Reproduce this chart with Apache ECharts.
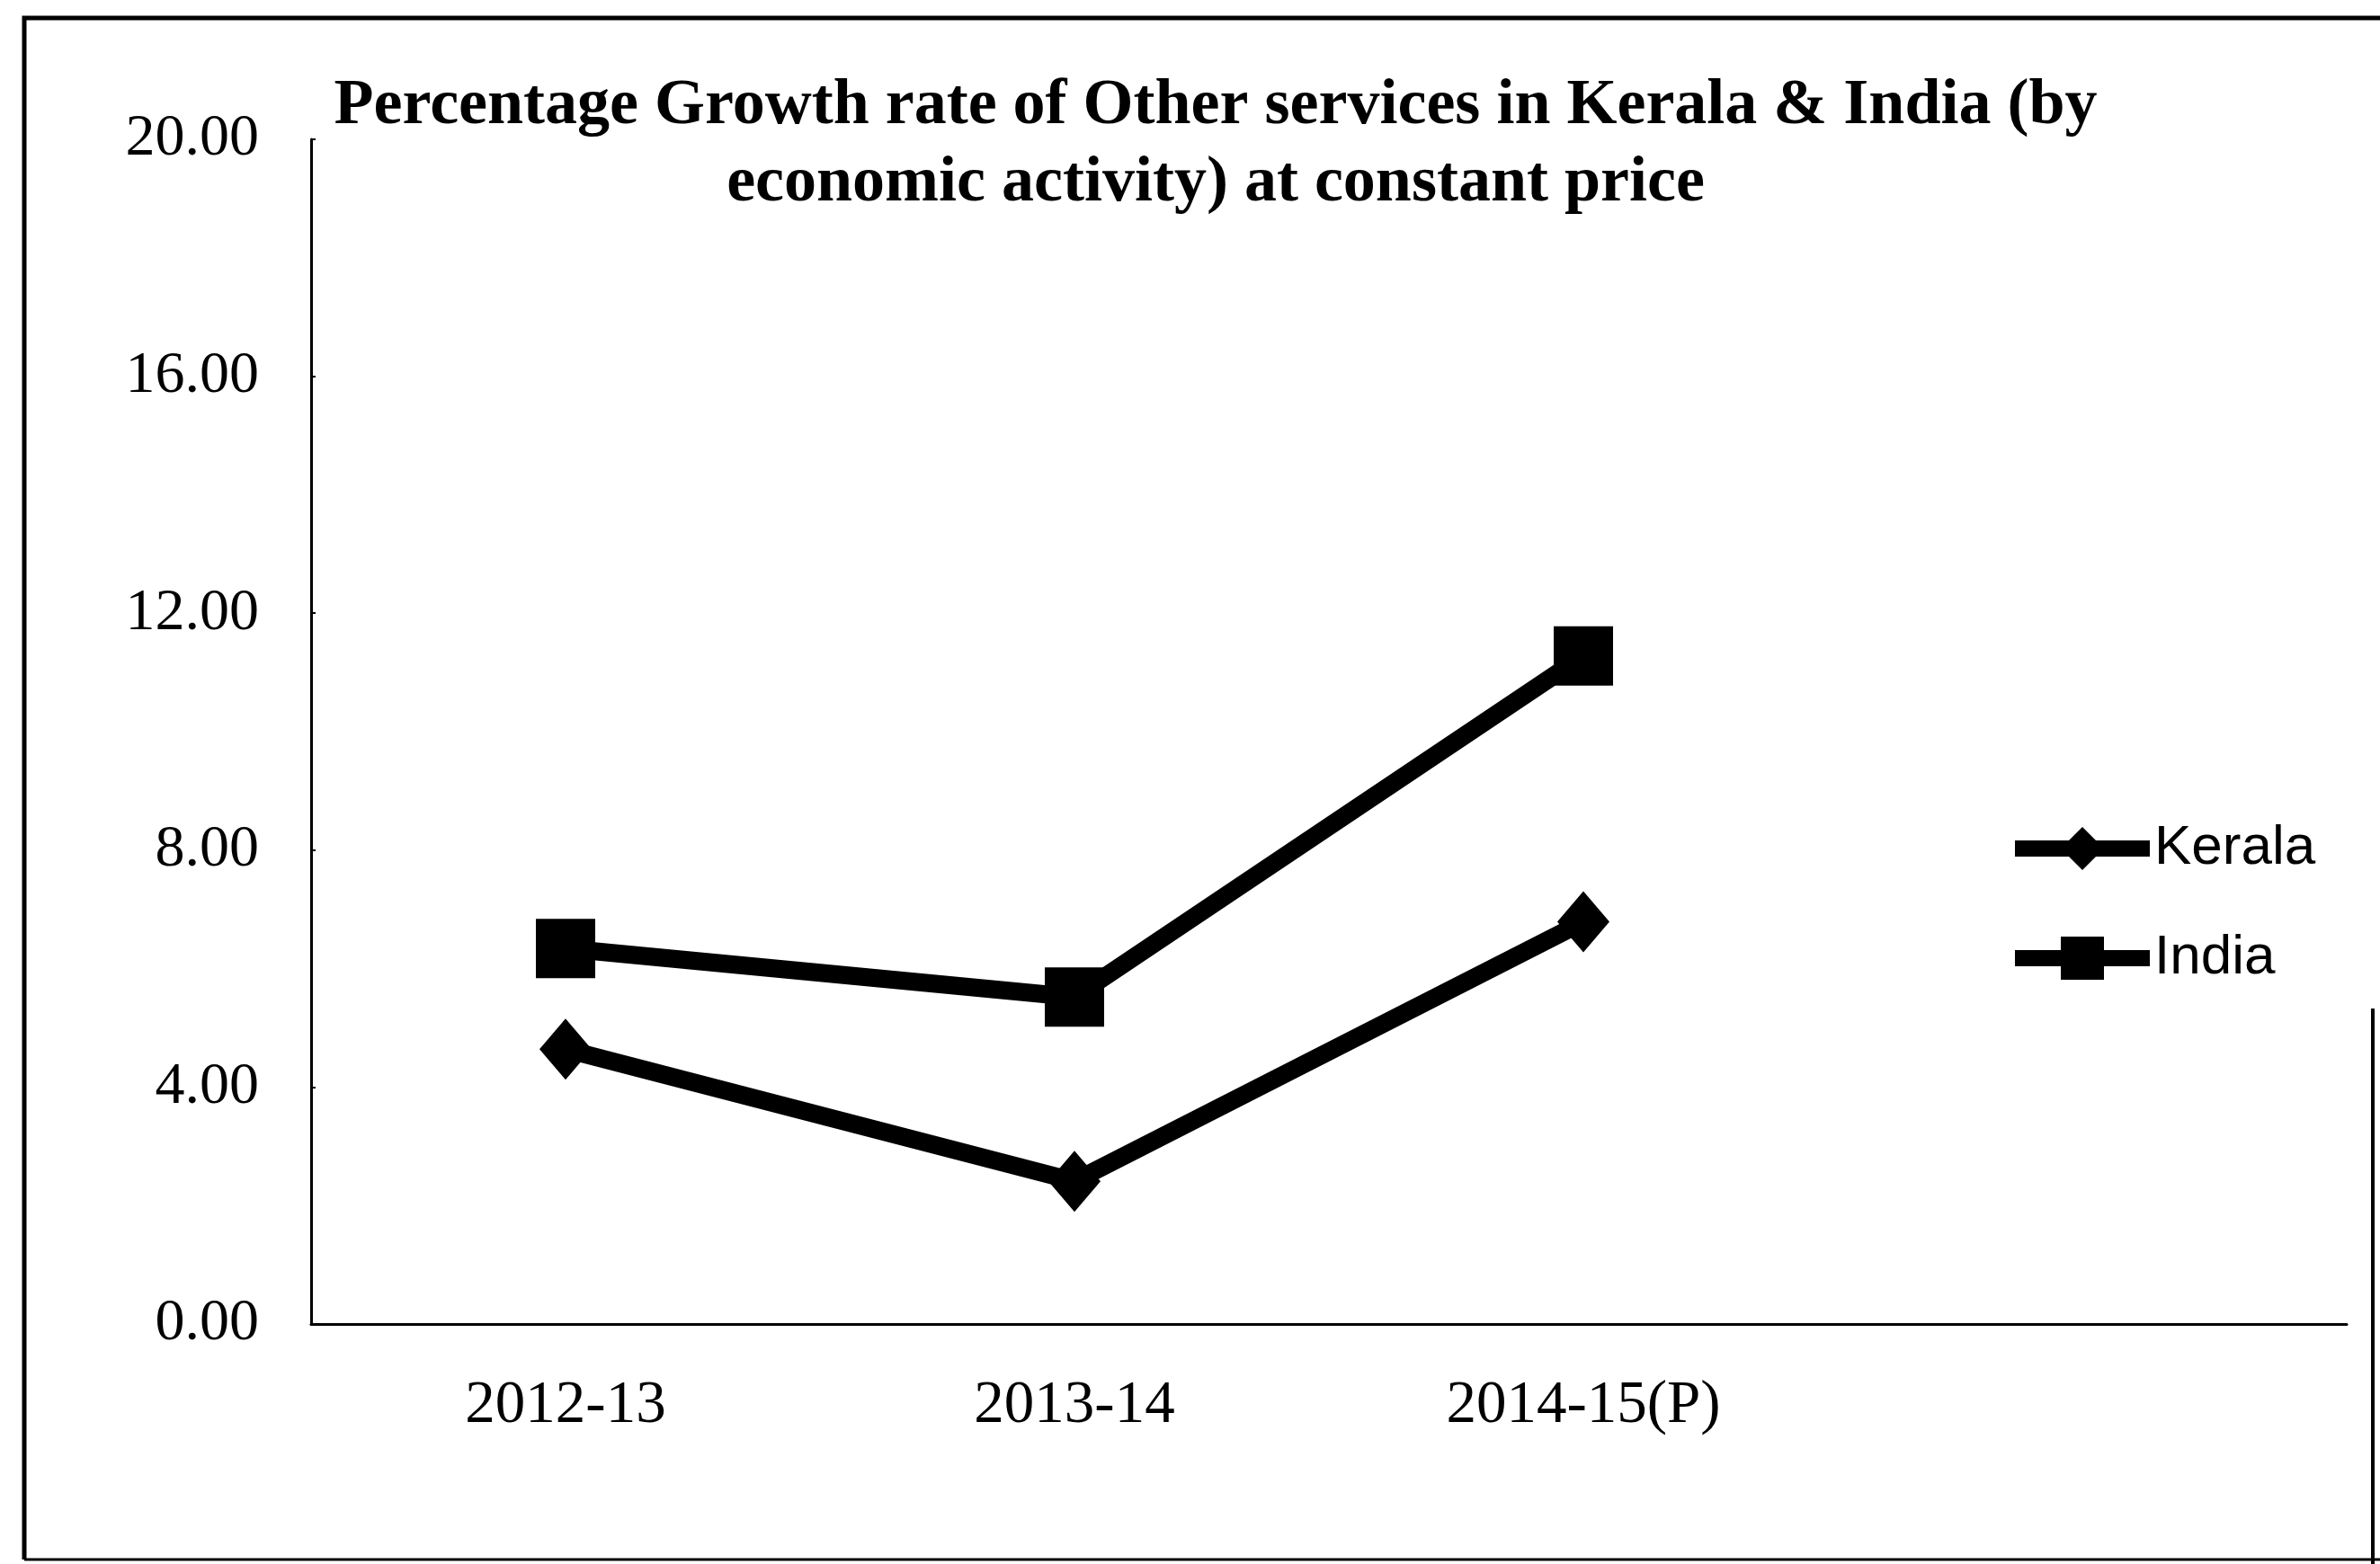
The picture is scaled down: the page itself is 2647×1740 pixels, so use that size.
<!DOCTYPE html>
<html>
<head>
<meta charset="utf-8">
<script src="https://cdn.jsdelivr.net/npm/echarts@6/dist/echarts.min.js"></script>
<style>
html,body{margin:0;padding:0;background:#fff;}
#c{width:2647px;height:1740px;}
</style>
</head>
<body>
<div id="c"></div>
<script>
const titleLines = ['Percentage Growth rate of Other services in Kerala & India (by', 'economic activity) at constant price'];
const categories = ['2012-13', '2013-14', '2014-15(P)'];
const keralaValues = [4.64, 2.41, 6.79];
const indiaValues = [6.34, 5.52, 11.28];
const yTicks = [0, 4, 8, 12, 16, 20];

const axisData = categories.concat(['']);

const chart = echarts.init(document.getElementById('c'), null, {renderer: 'canvas'});
chart.setOption({
  backgroundColor: '#fff',
  animation: false,
  title: {
    text: titleLines.join('\n'),
    left: 1347,
    top: 70,
    textAlign: 'center',
    textStyle: {
      fontFamily: 'Liberation Serif',
      fontWeight: 'bold',
      fontSize: 72,
      lineHeight: 86,
      color: '#000'
    }
  },
  legend: {
    orient: 'vertical',
    left: 2232,
    top: 913,
    padding: 0,
    itemWidth: 150,
    itemHeight: 60,
    itemGap: 60,
    data: ['Kerala', 'India'],
    lineStyle: {width: 18},
    textStyle: {
      fontFamily: 'Liberation Sans',
      fontSize: 62,
      color: '#000'
    }
  },
  grid: {
    left: 346,
    right: 37,
    top: 155,
    bottom: 267,
    containLabel: false
  },
  xAxis: {
    type: 'category',
    data: axisData,
    boundaryGap: true,
    axisLine: {lineStyle: {color: '#000', width: 3}},
    axisTick: {show: false},
    axisLabel: {
      margin: 58,
      fontFamily: 'Liberation Serif',
      fontSize: 67,
      lineHeight: 67,
      color: '#000'
    }
  },
  yAxis: {
    type: 'value',
    min: yTicks[0],
    max: yTicks[yTicks.length - 1],
    interval: yTicks[1] - yTicks[0],
    splitLine: {show: false},
    axisLine: {show: true, lineStyle: {color: '#000', width: 3}},
    axisTick: {show: true, inside: true, length: 5, lineStyle: {color: '#000', width: 2}},
    axisLabel: {
      margin: 58,
      fontFamily: 'Liberation Serif',
      fontSize: 66,
      color: '#000',
      formatter: v => v.toFixed(2)
    }
  },
  graphic: [
    {type: 'polyline', shape: {points: [[27, 1735], [27, 20], [2647, 20]]}, style: {stroke: '#000', lineWidth: 5, fill: null}},
    {type: 'line', shape: {x1: 27, y1: 1735, x2: 2647, y2: 1735}, style: {stroke: '#000', lineWidth: 3}},
    {type: 'line', shape: {x1: 2639, y1: 1122, x2: 2639, y2: 1740}, style: {stroke: '#000', lineWidth: 4}}
  ],
  series: [
    {
      name: 'Kerala',
      type: 'line',
      data: keralaValues,
      symbol: 'diamond',
      symbolSize: [58, 68],
      lineStyle: {color: '#000', width: 20},
      itemStyle: {color: '#000'}
    },
    {
      name: 'India',
      type: 'line',
      data: indiaValues,
      symbol: 'rect',
      symbolSize: 66,
      lineStyle: {color: '#000', width: 20},
      itemStyle: {color: '#000'}
    }
  ]
});
</script>
</body>
</html>
